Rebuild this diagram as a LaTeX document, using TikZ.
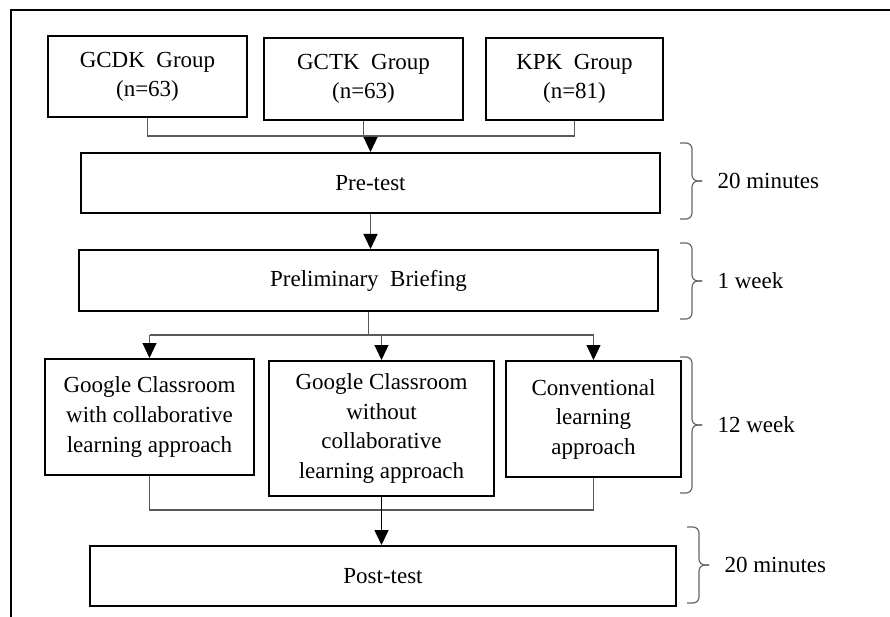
\documentclass[tikz,border=0pt]{standalone}
\usepackage{fontspec}
\setmainfont{Liberation Serif}
\usetikzlibrary{arrows.meta}

\newcommand{\boxfont}{\fontsize{23}{29.5}\selectfont}
% a curly brace at x from y1 to y2, with its label
\newcommand{\timebrace}[4]{%
    \draw[bracestyle] (#1,#2) -| (#1+12,{(#2+#3)/2}) -- (#1+22,{(#2+#3)/2});
    \draw[bracestyle] (#1,#3) -| (#1+12,{(#2+#3)/2}) -- (#1+22,{(#2+#3)/2});
    \node[anchor=west,font=\boxfont] (#4) at (#1+34,{(#2+#3)/2})}
\tikzset{stage/.style={draw,line width=2pt,align=center,font=\boxfont,inner sep=0pt},
         link/.style={draw=black!65,line width=1.2pt},
         bracestyle/.style={black!60,line width=1.2pt,rounded corners=6pt}}

\begin{document}
\begin{tikzpicture}[x=1pt,y=-1pt,>={Triangle[width=14pt,length=15pt,color=black]}]
    \useasboundingbox (0,0) rectangle (890,617);
    % draw the frame
    \draw[line width=2pt] (11,617) -- (11,10) -- (890,10);
    % draw the groups
    \node[stage,minimum width=199,minimum height=81] (gcdk) at (147.5,77) {GCDK\ \ Group\\(n=63)};
    \node[stage,minimum width=199,minimum height=82] (gctk) at (363.5,79) {GCTK\ \ Group\\(n=63)};
    \node[stage,minimum width=177,minimum height=82] (kpk) at (574.5,79) {KPK\ \ Group\\(n=81)};
    % draw the tests and the briefing
    \node[stage,minimum width=579,minimum height=60] (pretest) at (370.5,183) {Pre-test};
    \node[stage,minimum width=579,minimum height=61] (briefing) at (368.5,280.5) {Preliminary\ \ Briefing};
    \node[stage,minimum width=586,minimum height=60] (posttest) at (383,576) {Post-test};
    % draw the three treatments
    \node[stage,minimum width=209,minimum height=116] (gcwith) at (149.5,417) {Google Classroom\\with collaborative\\learning approach};
    \node[stage,minimum width=225,minimum height=135] (gcwithout) at (381.5,428.5) {Google Classroom\\without\\collaborative\\learning approach};
    \node[stage,minimum width=175,minimum height=116] (conventional) at (593.5,419) {Conventional\\learning\\approach};
    % groups join into the pre-test
    \coordinate (topjoin) at (pretest.north |- 0,136);
    \draw[link] (gcdk.south) |- (topjoin) -| (kpk.south);
    \draw[link] (gctk.south) -- (gctk.south |- topjoin);
    \draw[link,->] (topjoin) -- (pretest.north);
    \draw[link,->] (pretest.south) -- (pretest.south |- briefing.north);
    % briefing splits into the treatments
    \coordinate (split) at (briefing.south |- 0,335);
    \draw[link] (briefing.south) -- (split);
    \draw[link] (gcwith.north |- split) -- (conventional.north |- split);
    \foreach \t in {gcwith,gcwithout,conventional}
        \draw[link,->] (\t.north |- split) -- (\t.north);
    % treatments join into the post-test
    \coordinate (lowjoin) at (gcwithout.south |- 0,510);
    \draw[link] (gcwith.south) |- (lowjoin) -| (conventional.south);
    \draw[line width=1.6pt,->] (gcwithout.south) -- (gcwithout.south |- posttest.north);
    % draw the time spans
    \timebrace{680}{143}{219}{pretime} {20 minutes};
    \timebrace{680}{243}{319}{brieftime} {1 week};
    \timebrace{680}{357}{493}{treattime} {12 week};
    \timebrace{687}{527}{603}{posttime} {20 minutes};
\end{tikzpicture}
\end{document}
